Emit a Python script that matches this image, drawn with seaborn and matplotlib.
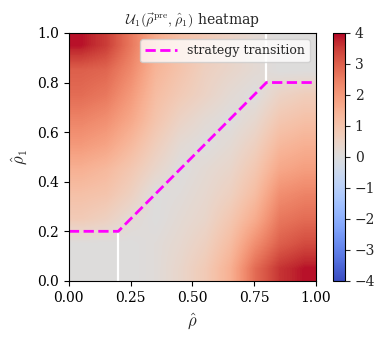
import numpy as np
import pandas as pd
import matplotlib
matplotlib.use("Agg")
import matplotlib.pyplot as plt
import seaborn as sns

# cell centres of the grid (rho_hat on x, rho1_hat on y)
rho_hat = [0.05, 0.15, 0.25, 0.35, 0.45, 0.55, 0.65, 0.75, 0.85, 0.95]
rho1_hat = [0.95, 0.85, 0.75, 0.65, 0.55, 0.45, 0.35, 0.25, 0.15, 0.05]

# utility values, rows from top (rho1_hat = 0.95) to bottom (rho1_hat = 0.05)
u1_values = [
    [3.9, 3.5, 2.6, 1.6, 1.1, 0.8, 0.5, 0.2, 0.0, 0.0],
    [3.0, 2.9, 2.3, 1.4, 1.0, 0.6, 0.4, 0.2, 0.0, 0.0],
    [2.8, 2.6, 2.0, 1.2, 0.8, 0.5, 0.2, 0.0, 0.5, 0.7],
    [2.4, 2.2, 1.7, 1.0, 0.5, 0.2, 0.0, 0.3, 0.9, 1.1],
    [2.0, 1.8, 1.3, 0.7, 0.2, 0.0, 0.2, 0.6, 1.3, 1.5],
    [1.5, 1.3, 0.9, 0.4, 0.0, 0.2, 0.4, 0.9, 1.7, 1.9],
    [1.1, 1.0, 0.6, 0.0, 0.1, 0.3, 0.6, 1.2, 2.2, 2.4],
    [0.8, 0.6, 0.2, 0.0, 0.2, 0.4, 0.9, 1.6, 2.6, 2.8],
    [0.0, 0.0, 0.0, 0.1, 0.3, 0.6, 1.2, 2.2, 3.0, 3.3],
    [0.0, 0.0, 0.0, 0.1, 0.4, 0.8, 1.5, 2.8, 3.6, 3.9],
]

# strategy transition line
trans_x = [0.0, 0.2, 0.8, 1.0]
trans_y = [0.2, 0.2, 0.8, 0.8]

# white boundary segments
left_x = [0.2, 0.2]
left_y = [0.0, 0.19]
right_x = [0.8, 0.8]
right_y = [0.81, 1.0]

sns.set_theme(style="ticks")
plt.rcParams["font.family"] = ["DejaVu Serif"]
plt.rcParams["mathtext.fontset"] = "cm"
plt.rcParams["axes.unicode_minus"] = True

fig = plt.figure(figsize=(3.89, 3.43), dpi=100)
ax = fig.add_axes([0.177, 0.181, 0.635, 0.723])
cax = fig.add_axes([0.856, 0.181, 0.031, 0.723])

grid = pd.DataFrame(u1_values, index=rho1_hat, columns=rho_hat)
im = ax.imshow(grid.values, cmap="coolwarm", vmin=-4, vmax=4,
               extent=(0, 1, 0, 1), origin="upper",
               interpolation="bilinear", aspect="auto")

sns.lineplot(x=left_x, y=left_y, ax=ax, color="white", lw=1.6,
             estimator=None, sort=False)
sns.lineplot(x=right_x, y=right_y, ax=ax, color="white", lw=1.6,
             estimator=None, sort=False)
sns.lineplot(x=trans_x, y=trans_y, ax=ax, color="#ff00ff", lw=2,
             linestyle="--", label="strategy transition",
             estimator=None, sort=False)

ax.set_xlim(0, 1)
ax.set_ylim(0, 1)
ax.set_xticks([0, 0.25, 0.5, 0.75, 1.0])
ax.set_yticks([0, 0.2, 0.4, 0.6, 0.8, 1.0])
ax.tick_params(labelsize=10, length=3.5, width=0.8, colors="black")
for s in ax.spines.values():
    s.set_visible(True)
    s.set_color("black")
    s.set_linewidth(0.8)
ax.set_xlabel(r"$\hat{\rho}$", fontsize=12, labelpad=5)
ax.set_ylabel(r"$\hat{\rho}_1$", fontsize=12, labelpad=5)
ax.set_title(r"$\mathcal{U}_1(\vec{\rho}^{\rm pre}, \hat{\rho}_1)$ heatmap",
             fontsize=10, pad=6)
ax.legend(loc="upper right", fontsize=9, frameon=True, framealpha=0.8,
          handlelength=2.5, borderpad=0.4)

cb = fig.colorbar(im, cax=cax, ticks=[-4, -3, -2, -1, 0, 1, 2, 3, 4])
cb.ax.tick_params(labelsize=10, length=3.5, width=0.8)
cb.outline.set_edgecolor("black")
cb.outline.set_linewidth(0.8)

fig.savefig("out.png", dpi=100)
